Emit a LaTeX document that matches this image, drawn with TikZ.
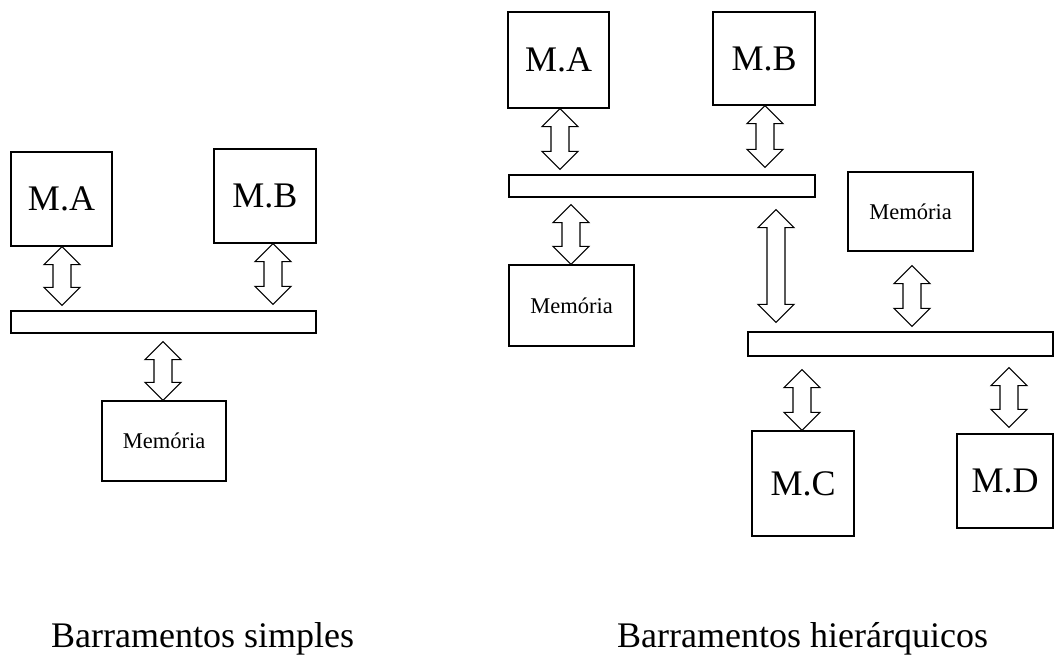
\documentclass[tikz,border=0pt]{standalone}
\usepackage{fontspec}
\setmainfont{Liberation Serif}
\usetikzlibrary{calc}

\tikzset{
  module/.style={draw, line width=1.2pt, inner sep=0pt, font=\fontsize{36}{40}\selectfont},
  memory/.style={draw, line width=1.2pt, inner sep=0pt, font=\fontsize{22.5}{26}\selectfont},
  bus/.style={draw, line width=1.2pt, inner sep=0pt},
  blockarrow/.style={draw, line width=1.1pt, fill=white, line join=miter},
  caption/.style={anchor=base west, inner sep=0pt, font=\fontsize{36}{40}\selectfont}
}

% Hollow double-headed arrow between two nodes.
% #1 x position, #2 upper anchor, #3 lower anchor, #4 gap below upper, #5 gap above lower
\newcommand\busarrow[5]{%
  \draw[blockarrow] let \p1=#2, \p2=#3 in
    (#1pt,\y1-#4pt) -- (#1pt+18pt,\y1-#4pt-18pt) -- (#1pt+9pt,\y1-#4pt-18pt)
    -- (#1pt+9pt,\y2+#5pt+18pt) -- (#1pt+18pt,\y2+#5pt+18pt) -- (#1pt,\y2+#5pt)
    -- (#1pt-18pt,\y2+#5pt+18pt) -- (#1pt-9pt,\y2+#5pt+18pt)
    -- (#1pt-9pt,\y1-#4pt-18pt) -- (#1pt-18pt,\y1-#4pt-18pt) -- cycle;}

\begin{document}
\begin{tikzpicture}[x=1pt, y=-1pt]
  \useasboundingbox (0,0) rectangle (1054,655);

  % simple bus
  \node[module, minimum width=101, minimum height=94] (lMA) at (61.5,199) {M.A};
  \node[module, minimum width=102, minimum height=94] (lMB) at (265,196) {M.B};
  \node[bus, minimum width=305, minimum height=22] (lbus) at (163.5,322) {};
  \node[memory, minimum width=124, minimum height=80] (lMem) at (164,441) {Memória};

  \busarrow{62}{(lMA.south)}{(lbus.north)}{0}{5}
  \busarrow{273}{(lMB.south)}{(lbus.north)}{0}{6}
  \busarrow{163}{(lbus.south)}{(lMem.north)}{8}{0}

  % hierarchical buses
  \node[module, minimum width=101, minimum height=96] (rMA) at (558.5,60) {M.A};
  \node[module, minimum width=102, minimum height=93] (rMB) at (764,58.5) {M.B};
  \node[bus, minimum width=306, minimum height=22] (rbusA) at (662,186) {};
  \node[memory, minimum width=125, minimum height=81] (rMemA) at (571.5,305.5) {Memória};
  \node[memory, minimum width=125, minimum height=79] (rMemB) at (910.5,211.5) {Memória};
  \node[bus, minimum width=305, minimum height=24] (rbusB) at (900.5,344) {};
  \node[module, minimum width=102, minimum height=105] (rMC) at (803,483.5) {M.C};
  \node[module, minimum width=96, minimum height=94] (rMD) at (1005,481) {M.D};

  \busarrow{560}{(rMA.south)}{(rbusA.north)}{0}{5}
  \busarrow{765}{(rMB.south)}{(rbusA.north)}{0}{7}
  \busarrow{571}{(rbusA.south)}{(rMemA.north)}{7}{0}
  \busarrow{776}{(rbusA.south)}{(rbusB.north)}{12}{9}
  \busarrow{912}{(rMemB.south)}{(rbusB.north)}{14}{5}
  \busarrow{802}{(rbusB.south)}{(rMC.north)}{13}{0}
  \busarrow{1009}{(rbusB.south)}{(rMD.north)}{11}{6}

  % captions
  \node[caption] (capA) at (51,647) {Barramentos simples};
  \node[caption] (capB) at (617,647) {Barramentos hierárquicos};
\end{tikzpicture}
\end{document}
